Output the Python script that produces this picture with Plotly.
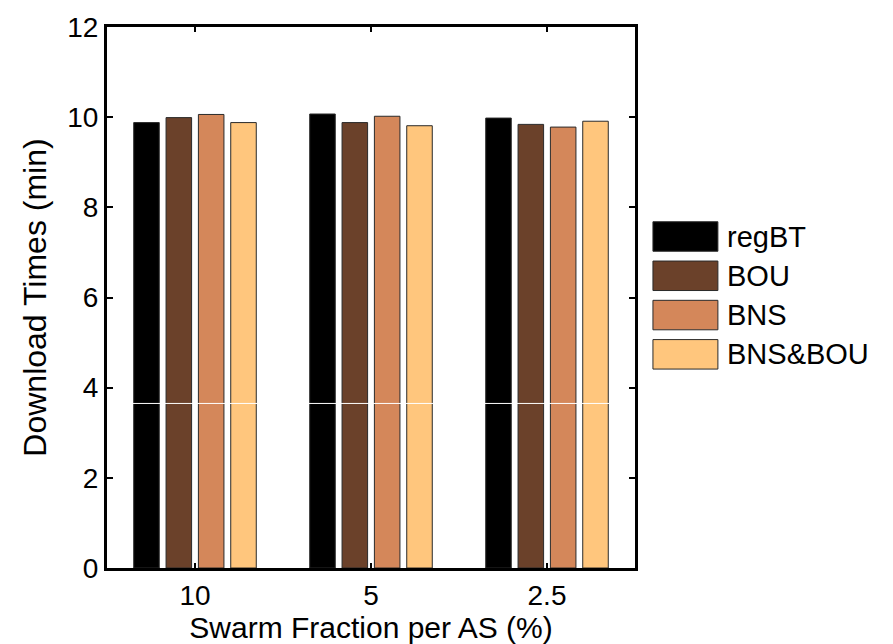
import plotly.graph_objects as go

categories = ["10", "5", "2.5"]
series_names = ["regBT", "BOU", "BNS", "BNS&BOU"]
regBT = [9.88, 10.07, 9.98]
BOU = [9.99, 9.88, 9.84]
BNS = [10.06, 10.02, 9.78]
BNS_BOU = [9.88, 9.81, 9.91]
artifact_level = 3.65  # thin white line visible across all bars in the original
colors = ["#000000", "#6B412A", "#D4875A", "#FFC67D"]

values = [regBT, BOU, BNS, BNS_BOU]
xpos = [1, 2, 3]
FONT = "Liberation Sans, Arial, sans-serif"

fig = go.Figure()
for name, vals, col in zip(series_names, values, colors):
    fig.add_trace(go.Bar(
        x=xpos, y=vals, name=name, marker_color=col,
        marker_line_color="#2a2a2a", marker_line_width=1,
        offsetgroup=name, showlegend=False,
    ))
for name, vals, col in zip(series_names, values, colors):
    fig.add_trace(go.Scatter(
        x=xpos, y=[artifact_level] * len(xpos), mode="markers",
        marker=dict(symbol="line-ew", size=25, color="white",
                    line=dict(color="white", width=1)),
        offsetgroup=name, showlegend=False, hoverinfo="skip",
    ))

# manual legend with large swatches (paper coordinates)
shapes = []
annotations = []
y_top0 = 0.640
step = 0.0726
sw_h = 0.0545
for i, (name, col) in enumerate(zip(series_names, colors)):
    yt = y_top0 - i * step
    shapes.append(dict(type="rect", xref="paper", yref="paper",
                       x0=1.034, x1=1.157, y0=yt - sw_h, y1=yt,
                       fillcolor=col, line=dict(color="#2a2a2a", width=1)))
    annotations.append(dict(xref="paper", yref="paper", x=1.170, y=yt - sw_h / 2,
                            text=name, showarrow=False, xanchor="left",
                            yanchor="middle",
                            font=dict(family=FONT, size=29, color="black")))

fig.update_layout(
    width=893, height=644,
    margin=dict(l=107, r=258, t=20, b=73),
    paper_bgcolor="white", plot_bgcolor="white",
    barmode="group", bargap=0.265, bargroupgap=0.21,
    scattermode="group", scattergap=0.265,
    font=dict(family=FONT, size=28, color="black"),
    shapes=shapes, annotations=annotations,
    showlegend=False,
)
fig.update_xaxes(
    range=[0.5, 3.5], tickvals=xpos, ticktext=categories,
    ticks="inside", ticklen=5, tickwidth=2, tickcolor="black",
    showline=True, linewidth=3, linecolor="black", mirror="ticks",
    showgrid=False, zeroline=False,
    title=dict(text="Swarm Fraction per AS (%)", standoff=0,
               font=dict(family=FONT, size=30)),
    tickfont=dict(family=FONT, size=28),
)
fig.update_yaxes(
    range=[0, 12], tickvals=[0, 2, 4, 6, 8, 10, 12],
    ticks="inside", ticklen=6, tickwidth=2, tickcolor="black",
    showline=True, linewidth=3, linecolor="black", mirror="ticks",
    showgrid=False, zeroline=False,
    title=dict(text="Download Times (min)", standoff=12,
               font=dict(family=FONT, size=32)),
    tickfont=dict(family=FONT, size=28),
)

fig.write_html("out.html")
